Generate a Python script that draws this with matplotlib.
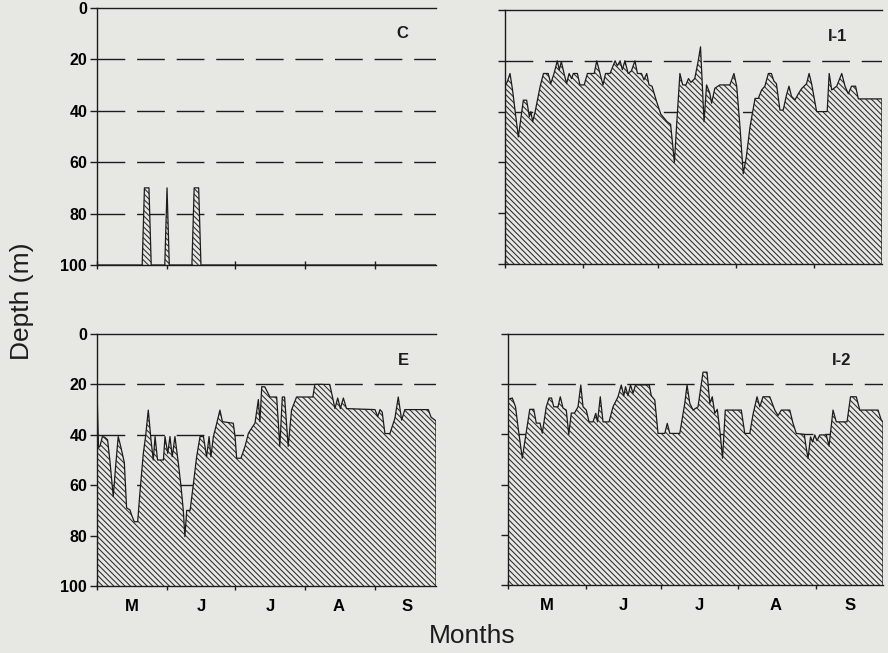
import matplotlib
matplotlib.use('Agg')
import matplotlib.pyplot as plt

# ---------------------------------1. Data (day counted from 1 May, depth in m)------------------------------------------#
c_days = [0, 20, 21, 23, 24, 30, 31, 32, 42, 43, 45, 46, 150]
c_depth = [100, 100, 70, 70, 100, 100, 70, 100, 100, 70, 70, 100, 100]

i1_days = [0, 1, 2, 3, 5.3, 7.3, 8.6, 9.7, 10.3, 11, 12, 14, 15.3, 17.2, 18.2, 19.5, 20.8, 21.6, 22.4, 23.5,
           24.5, 25.5, 26.5, 27.2, 28.8, 29.8, 31.5, 32.8, 35.5, 36.5, 37.8, 39, 40, 41.8, 43.8, 44.7, 45.8, 46.7,
           47.7, 49, 50.3, 51.7, 52.7, 54.3, 55.3, 56.4, 57.3, 58.5, 60.3, 62, 64.5, 65.9, 67.4, 68.5, 69.6, 70.7,
           72, 73, 74, 75.5, 76.9, 77.8, 79.2, 80.2, 81.5, 82.2, 83.5, 85.5, 89.5, 91.1, 92.2, 93.5, 94.8, 96,
           97.5, 99.5, 100.8, 102.1, 103.4, 104.8, 106, 107, 108, 109.4, 110.7, 112, 113, 114, 115.4, 116.7, 118,
           120, 121, 122, 124, 128.2, 129, 130, 132, 134, 135.3, 136.6, 137.9, 139.5, 140.6, 150]
i1_depth = [30, 28, 25, 31.5, 50, 35.5, 35.5, 42, 40, 44, 40, 30, 25, 25, 29, 25, 20, 23.6, 20.3, 25,
            29, 25, 27, 25, 25, 29.5, 29.5, 25, 25, 20, 25, 29.5, 25, 25, 20, 22, 20, 23.5,
            20, 25, 24, 20, 25, 25, 27.5, 25, 29.5, 30, 36, 41, 44, 45, 60, 42, 25, 29.5,
            29.5, 27, 28.5, 27, 20, 14.5, 44, 29.5, 32.8, 36.7, 30.8, 29.5, 29.5, 25, 30, 46, 64.5, 58,
            46, 34.8, 34.8, 31.5, 30, 25, 25, 28, 29, 39.4, 39.4, 33.5, 30, 34, 35.4, 33, 31,
            29, 25, 29, 40, 40, 25, 31.5, 30, 25, 30, 33, 30, 30, 35, 35]

e_days = [0, 0.7, 1.3, 2.4, 3.5, 4.7, 5.8, 7.2, 8.3, 9.4, 10.5, 12.1, 13.1, 14.6, 15.3, 16.5, 18, 19, 20.5,
          21.5, 22.7, 23.9, 24.9, 25.7, 26.8, 29.4, 30.1, 31.3, 32.3, 33.3, 34.5, 36, 37.2, 38.2, 38.9, 39.7,
          41.2, 42.6, 44.1, 45.6, 47.1, 48.5, 49.6, 50.4, 51.5, 53, 54.4, 55.5, 60.3, 61.1, 61.8, 63.7, 65.5,
          67, 68.4, 69.9, 71.4, 72.1, 72.9, 74.3, 76.5, 79.5, 80.9, 82, 83, 84.6, 86.1, 88.3, 95.5, 96.4, 103,
          105.3, 106.5, 107.7, 109, 110.4, 123, 124.2, 125.2, 126.2, 127.4, 129.6, 131.8, 133.3, 134.8, 136.2,
          146.6, 147.8, 150]
e_depth = [22, 45, 44.6, 40.7, 41, 42, 51, 64.5, 52, 40.7, 44.6, 51, 69, 69.8, 71.8, 74.5, 74.5, 63, 47.4,
           40.7, 30.2, 42, 50, 40.7, 50, 50, 40.7, 47.4, 40.7, 48.7, 40.7, 51.3, 60.6, 70, 80.4, 70,
           70, 59.9, 48.7, 40.7, 40.7, 48.7, 40.7, 48.7, 40.7, 35.4, 30.2, 34.8, 35.4, 40.7, 49.3, 49.3, 44.6,
           39.4, 37.4, 35.4, 26, 34.8, 20.9, 21, 25, 25, 44.6, 25, 25, 44.6, 30.1, 25, 25, 20, 20,
           29.6, 25.4, 29.6, 25.4, 29.6, 30, 32.8, 30, 31, 39.5, 39.5, 33.5, 25, 34.2, 30,
           30, 33, 34.5]

i2_days = [0, 1.7, 3, 4, 5.7, 7, 8.7, 10.3, 11.3, 12.8, 13.7, 15.3, 16.4, 17.4, 18.3, 20, 20.9, 22, 23.3,
           24.3, 25.3, 26.6, 28, 29.1, 30, 31.3, 32.4, 34, 35.1, 35.8, 36.9, 38, 40.4, 42, 44, 45.3, 46.3, 47,
           48, 49, 50, 51, 56.5, 57.3, 58.7, 60, 62.7, 63.7, 64.7, 68.7, 70.7, 71.6, 72.7, 74, 76, 78, 79.6,
           80.7, 81.7, 82.7, 83.7, 84.8, 85.8, 86.9, 93.3, 94.7, 96.7, 98, 99.6, 100.7, 102, 104.7, 106.7, 108,
           109.3, 112.7, 114, 115.3, 118.5, 119.3, 120, 121, 121.8, 122.7, 123.6, 124.7, 127.3, 128.4, 130,
           131.3, 135.6, 137, 139.3, 140.7, 148, 149.3, 150]
i2_depth = [26, 25.5, 29, 37, 49.5, 41, 30, 30, 35.5, 35.5, 39.5, 29, 25.5, 25.5, 29, 29, 25, 29.5, 30.3,
            40, 31.5, 31.5, 29, 20.3, 29, 30.3, 35, 35, 31.6, 35, 25, 35, 35, 29, 25, 20.3, 24.6, 21,
            24.6, 20.3, 23.6, 20.3, 20.3, 24.6, 26.3, 39.6, 39.6, 35.6, 39.6, 39.6, 27.6, 20.3, 27.6, 30.3, 29,
            15.2, 15.2, 27.6, 25, 31.6, 30, 39, 49.5, 30.3, 30.3, 39.6, 39.6, 32, 25, 29, 25, 25, 30.3, 32.5,
            30.3, 30.3, 35.6, 39.6, 40, 45.5, 49.5, 41, 43, 40.2, 42.5, 40.2, 40.2, 44.6, 30.3,
            35, 35, 25, 25, 30.3, 30.3, 34.3, 35]

month_ticks = [0, 31, 61, 92, 123]
month_mid = [15.5, 46, 76.5, 107, 137]
month_labels = ['M', 'J', 'J', 'A', 'S']
depth_ticks = [0, 20, 40, 60, 80, 100]
guide_depths = [20, 40, 60, 80]
bottom_depth = 100

# ---------------------------------2. Styling-----------------------------------------------------------------------------#
bg = '#e7e7e4'
ink = '#1c1c1c'
plt.rcParams['font.family'] = ['Liberation Sans', 'DejaVu Sans']
plt.rcParams['hatch.linewidth'] = 0.75
plt.rcParams['hatch.color'] = '#2a2a2a'


def draw_panel(ax, days, depth, label, label_xy, show_depths, show_months):
    ax.set_facecolor(bg)
    # dashed guide lines sit under the fill, so they only show where the fill is deeper
    for d in guide_depths:
        ax.axhline(d, color=ink, lw=1.0, dashes=(20, 8.5), zorder=1)
    ax.fill_between(days, depth, bottom_depth, facecolor=bg, edgecolor='#2a2a2a', hatch='\\' * 6,
                    linewidth=0, zorder=2)
    # outline of the series, closed down the right edge like the original
    ax.plot(days + [days[-1]], depth + [bottom_depth], color=ink, lw=0.9, zorder=2.5)

    ax.set_xlim(0, 150)
    ax.set_ylim(bottom_depth, 0)
    ax.spines['right'].set_visible(False)
    for s in ['left', 'bottom', 'top']:
        ax.spines[s].set_color(ink)
        ax.spines[s].set_linewidth(1.0)
        ax.spines[s].set_zorder(3)

    ax.set_yticks(depth_ticks)
    ax.tick_params(axis='y', direction='out', length=5, width=1, color=ink, pad=2,
                   labelsize=11.5, labelleft=show_depths)
    for t in ax.get_yticklabels():
        t.set_fontweight('bold')

    ax.set_xticks(month_ticks)
    ax.set_xticklabels([])
    ax.tick_params(axis='x', which='major', direction='inout', length=6, width=1, color=ink)
    ax.set_xticks(month_mid, minor=True)
    if show_months:
        ax.set_xticklabels(month_labels, minor=True, fontweight='bold', fontsize=12)
    ax.tick_params(axis='x', which='minor', length=0, pad=9, labelbottom=show_months)

    ax.text(label_xy[0], label_xy[1], label, ha='center', va='center', fontsize=12, fontweight='bold',
            color=ink, zorder=4)


# ---------------------------------3. Figure------------------------------------------------------------------------------#
fig = plt.figure(figsize=(8.88, 6.53), dpi=100, facecolor=bg)

ax_c = fig.add_axes([0.1092, 0.5942, 0.3818, 0.3936])
ax_i1 = fig.add_axes([0.5687, 0.5957, 0.4245, 0.3890])
ax_e = fig.add_axes([0.1092, 0.1026, 0.3818, 0.3859])
ax_i2 = fig.add_axes([0.5721, 0.1041, 0.4223, 0.3844])

draw_panel(ax_c, c_days, c_depth, 'C', (135, 10), True, False)
draw_panel(ax_i1, i1_days, i1_depth, 'I-1', (132.5, 10.5), False, False)
draw_panel(ax_e, e_days, e_depth, 'E', (135.5, 10.5), True, True)
draw_panel(ax_i2, i2_days, i2_depth, 'I-2', (133.5, 10.5), False, True)

fig.text(0.025, 0.539, 'Depth (m)', rotation=90, ha='center', va='center', fontsize=19, color=ink)
fig.text(0.532, 0.026, 'Months', ha='center', va='center', fontsize=19, color=ink)

fig.savefig('out.png', dpi=100, facecolor=bg)
